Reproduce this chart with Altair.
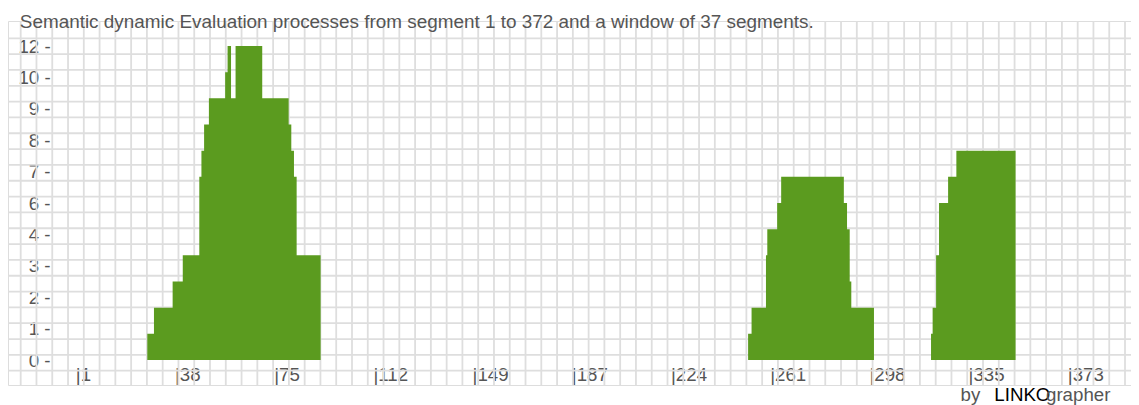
import altair as alt
import pandas as pd

# ---------------- data ----------------
title_text = "Semantic dynamic Evaluation processes from segment 1 to 372 and a window of 37 segments."

# step profile: the count holds from each start segment until the next one
step_start = [28, 30.5, 37.5, 41.3, 47.5, 48.3, 49.3, 51.1, 57.2, 58.1, 59.4, 61.1, 71.1, 81, 82, 83, 84, 93,
              253.3, 254.6, 260, 260.5, 264.2, 265.7, 289.2, 290.4, 291.4, 292, 300.5,
              321.9, 322.5, 323.8, 324.9, 328.3, 331.4, 353.6]
step_value = [1, 2, 3, 4, 7, 8, 9, 10, 11, 12, 10, 12, 10, 9, 8, 7, 4, 0,
              1, 2, 4, 5, 6, 7, 6, 5, 3, 2, 0,
              1, 2, 4, 6, 7, 8, 0]

x_ticks = [1, 38.2, 75.4, 112.6, 149.8, 187, 224.2, 261.4, 298.6, 335.8, 373]
x_tick_labels = ["|1", "|38", "|75", "|112", "|149", "|187", "|224", "|261", "|298", "|335", "|373"]

y_ticks = [0, 1.2, 2.4, 3.6, 4.8, 6, 7.2, 8.4, 9.6, 10.8, 12]
y_tick_labels = ["0 -", "1 -", "2 -", "3 -", "4 -", "6 -", "7 -", "8 -", "9 -", "10 -", "12 -"]

grid_cols = list(range(71))
grid_rows = list(range(22))

credit_by, credit_brand, credit_tail = "by", "LINKO", "grapher"

# ---------------- styling ----------------
PLOT_W, PLOT_H = 1123, 364
GREEN = "#5b9b1f"
GRAY = "#555555"
GRID = "#dedede"
FONT = "Liberation Sans"
FS = 18.7


def label_expr(values, labels):
    parts = [f"datum.value == {v} ? '{l}'" for v, l in zip(values, labels)]
    return " : ".join(parts) + " : ''"


steps = pd.DataFrame({"segment": step_start, "count": step_value})

vgrid = alt.Chart(pd.DataFrame({"col": grid_cols})).mark_rule(
    color=GRID, strokeWidth=1.8
).encode(
    x=alt.X("col:Q", scale=alt.Scale(domain=[0, 70], range=[12.7, 1117.0], nice=False, zero=False), axis=None)
)

hgrid = alt.Chart(pd.DataFrame({"row": grid_rows})).mark_rule(
    color=GRID, strokeWidth=1.8
).encode(
    y=alt.Y("row:Q", scale=alt.Scale(domain=[0, 21], range=[17.3, 349.7], nice=False, zero=False), axis=None)
)

area = alt.Chart(steps).mark_area(interpolate="step-after", color=GREEN).encode(
    x=alt.X(
        "segment:Q",
        scale=alt.Scale(domain=[1, 373], range=[67.3, 1059.3], nice=False, zero=False),
        axis=alt.Axis(
            orient="bottom", values=x_ticks, labelExpr=label_expr(x_ticks, x_tick_labels), title=None,
            grid=False, ticks=False, tickSize=0, domain=False, labelAlign="left", labelBaseline="alphabetic",
            labelPadding=0, offset=-5, labelFont=FONT, labelFontSize=FS, labelColor=GRAY,
            labelFlush=False, labelOverlap=False, labelBound=False,
        ),
    ),
    y=alt.Y(
        "count:Q",
        scale=alt.Scale(domain=[0, 12], range=[339, 25], nice=False, zero=False),
        axis=alt.Axis(
            orient="left", values=y_ticks, labelExpr=label_expr(y_ticks, y_tick_labels), title=None,
            grid=False, ticks=False, tickSize=0, domain=False, labelAlign="right", labelBaseline="middle",
            labelPadding=0, offset=-42.1, labelFont=FONT, labelFontSize=FS, labelColor=GRAY,
            labelFlush=False, labelOverlap=False, labelBound=False,
        ),
    ),
)


def credit(text, xpos, color):
    return alt.Chart(pd.DataFrame({"t": [text]})).mark_text(
        align="left", baseline="alphabetic", font=FONT, fontSize=FS, color=color
    ).encode(x=alt.value(xpos), y=alt.value(380), text="t:N")


chart = alt.layer(
    vgrid, hgrid, area,
    credit(credit_by, 952.5, GRAY),
    credit(credit_brand, 986.3, "#000000"),
    credit(credit_tail, 1038.0, GRAY),
).resolve_scale(
    x="independent", y="independent"
).properties(
    width=PLOT_W,
    height=PLOT_H,
    title=alt.TitleParams(
        text=title_text, anchor="start", frame="group", baseline="alphabetic", offset=-5, dx=11.8, dy=22,
        fontSize=18.9, font=FONT, color=GRAY, fontWeight="normal",
    ),
    padding={"left": 0, "top": 13, "right": 0, "bottom": 20},
    autosize=alt.AutoSizeParams(type="none"),
).configure_view(stroke=None).configure(background="white")

chart.save("out.html", embed_options={"renderer": "svg", "actions": False})
